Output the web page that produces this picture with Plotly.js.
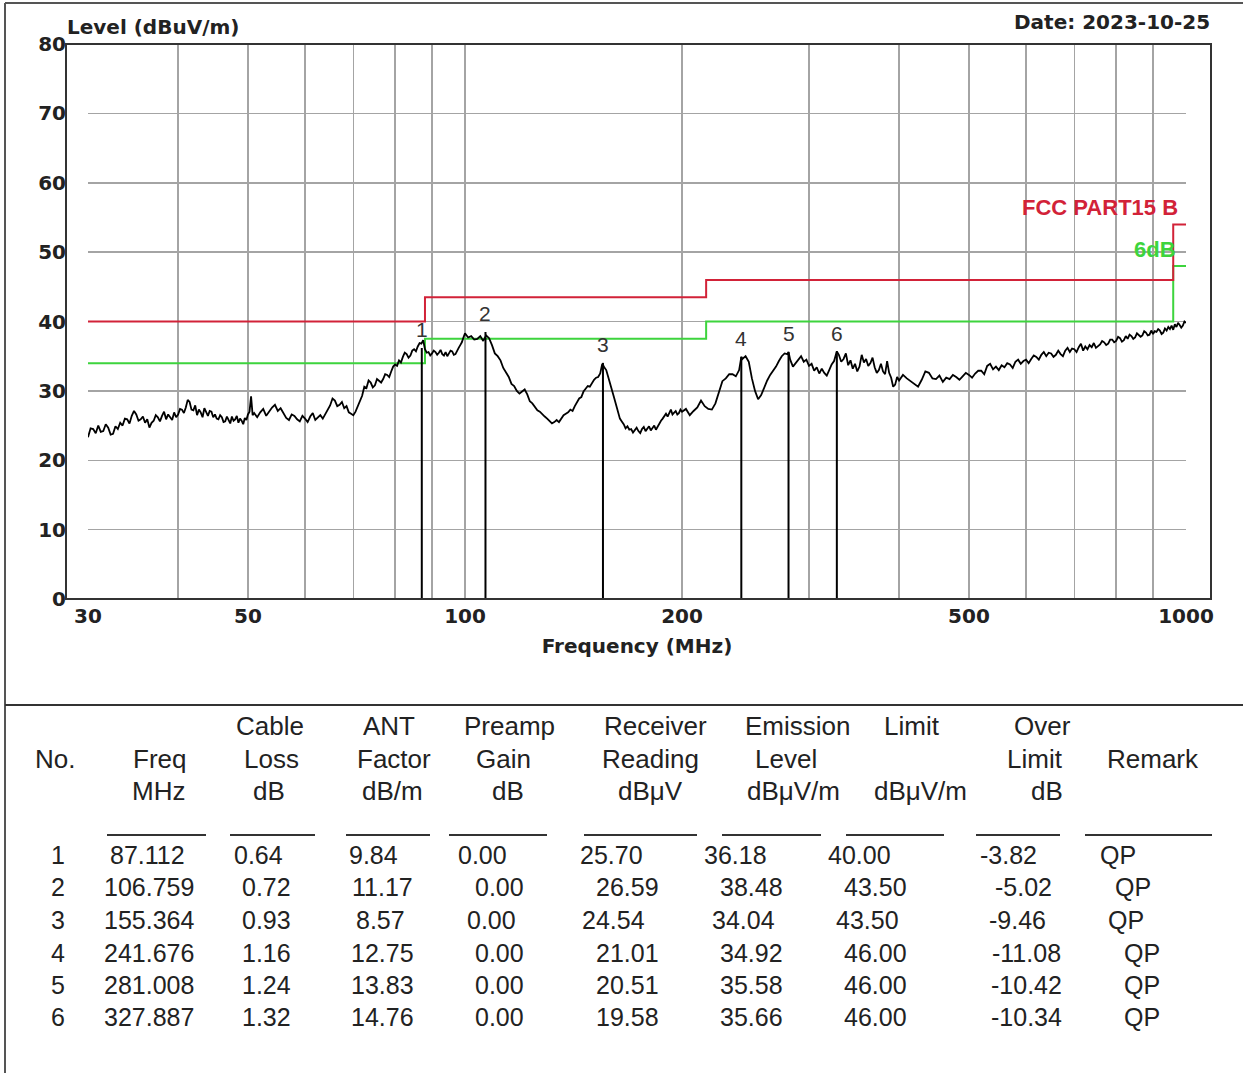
<!DOCTYPE html>
<html><head><meta charset="utf-8">
<script src="https://cdn.plot.ly/plotly-3.0.1.min.js"></script>
<style>html,body{margin:0;padding:0;background:#fff;}#chart{width:1243px;height:1073px;}</style>
</head><body><div id="chart"></div>
<script>
const freqMHz = [
30,30.25,30.5,30.75,31,31.25,31.5,31.75,32,32.25,
32.5,32.75,33,33.25,33.5,33.75,34,34.25,34.5,34.75,
35,35.25,35.5,35.75,36,36.25,36.5,36.75,37,37.25,
37.5,37.75,38,38.25,38.5,38.75,39,39.25,39.5,39.75,
40,40.25,40.5,40.75,41,41.25,41.5,41.75,42,42.25,
42.5,42.75,43,43.25,43.5,43.75,44,44.25,44.5,44.75,
45,45.25,45.5,45.75,46,46.25,46.5,46.75,47,47.25,
47.5,47.75,48,48.25,48.5,48.75,49,49.25,49.5,49.75,
50,50.25,50.5,50.75,
51,51.5,52,52.5,53,53.5,54,54.5,55,55.5,
56,56.5,57,57.5,58,58.5,59,59.5,60,60.5,
61,61.5,62,62.5,63,63.5,64,64.5,65,65.5,
66,66.5,67,67.5,68,68.5,69,69.5,70,70.5,
71,71.5,72,72.5,73,73.5,74,74.5,75,75.5,
76,76.5,77,77.5,78,78.5,79,79.5,80,80.5,
81,81.5,82,82.5,83,83.5,84,84.5,85,85.5,
86,86.5,87,87.5,88,88.5,89,89.5,90,90.5,
91,91.5,92,92.5,93,93.5,94,94.5,95,95.5,
96,96.5,97,97.5,98,98.5,99,99.5,
100,101,102,103,104,105,106,107,108,109,
110,111,112,113,114,115,116,117,118,119,
120,121,122,123,124,125,126,127,128,129,
130,131,132,133,134,135,136,137,138,139,
140,141,142,143,144,145,146,147,148,149,
150,151,152,153,154,155,156,157,158,159,
160,161,162,163,164,165,166,167,168,169,
170,171,172,173,174,175,176,177,178,179,
180,181,182,183,184,185,186,187,188,189,
190,191,192,193,194,195,196,197,198,199,
200,202.5,205,207.5,210,212.5,215,217.5,220,222.5,
225,227.5,230,232.5,235,237.5,240,241.7,242.5,245,
247.5,250,252.5,255,257.5,260,262.5,265,267.5,270,
272.5,275,277.5,280,281,282.5,285,287.5,290,292.5,
295,297.5,300,302.5,305,307.5,310,312.5,315,317.5,
320,322.5,325,327.9,330,332.5,335,337.5,340,342.5,
345,347.5,350,352.5,355,357.5,360,362.5,365,367.5,
370,372.5,375,377.5,380,382.5,385,387.5,390,392.5,
395,397.5,
400,405,410,415,420,425,430,435,440,445,
450,455,460,465,470,475,480,485,490,495,
500,505,510,515,520,525,530,535,540,545,
550,555,560,565,570,575,580,585,590,595,
600,605,610,615,620,625,630,635,640,645,
650,655,660,665,670,675,680,685,690,695,
700,705,710,715,720,725,730,735,740,745,
750,755,760,765,770,775,780,785,790,795,
800,805,810,815,820,825,830,835,840,845,
850,855,860,865,870,875,880,885,890,895,
900,905,910,915,920,925,930,935,940,945,
950,955,960,965,970,975,980,985,990,995,
1000];
const levelDbuV = [
23.3,24.6,24.5,23.9,25.0,24.1,24.2,25.2,24.7,23.7,
23.8,24.9,24.5,25.4,25.0,26.0,25.9,25.3,26.4,27.1,
26.6,25.7,25.9,26.3,25.4,25.9,24.7,25.4,25.7,26.5,
26.2,25.6,26.4,27.0,25.9,26.6,26.2,25.8,26.9,26.2,
26.6,27.4,27.3,26.8,27.6,28.7,28.4,27.3,27.2,27.9,
26.5,27.3,26.9,26.2,27.5,26.8,26.4,27.1,27.0,26.2,
26.6,26.0,25.9,26.5,26.2,25.5,25.6,26.3,25.9,25.3,
26.3,25.7,25.9,26.4,25.4,26.0,25.7,25.2,26.1,25.8,
26.6,27.0,29.2,26.5,
26.8,26.2,26.9,27.4,26.4,27.0,27.6,28.0,27.1,27.5,
26.7,26.1,25.8,26.6,26.4,25.9,25.6,26.4,26.0,25.5,
26.3,26.8,25.8,26.2,26.5,26.0,26.7,27.2,27.9,28.9,
28.6,27.8,28.0,28.4,27.5,27.8,26.9,26.7,26.5,27.0,
27.8,28.6,29.3,30.6,30.4,31.5,31.2,30.5,30.8,31.7,
31.4,31.2,31.7,32.4,32.3,32.0,32.8,33.5,33.8,33.6,
34.4,34.1,34.9,35.5,35.3,34.8,35.1,35.8,36.0,35.7,
36.4,36.9,36.8,37.3,36.0,35.5,35.6,35.1,35.4,35.8,
35.6,35.2,35.5,35.9,35.3,35.1,35.6,35.0,35.4,35.8,
35.7,35.2,35.3,35.9,36.2,36.6,37.0,37.7,
38.3,37.7,37.9,37.4,37.5,37.9,37.2,38.0,37.6,36.6,
35.4,35.0,34.4,33.3,32.6,32.0,31.0,30.7,30.0,29.6,
29.9,30.2,29.5,28.5,28.2,27.6,27.2,27.0,26.6,26.3,
26.0,25.6,25.3,25.5,25.8,25.5,26.1,26.5,26.7,26.9,
27.3,27.1,27.8,28.4,28.9,29.1,29.9,30.3,30.7,30.6,
31.2,31.6,31.9,32.0,32.5,33.9,33.4,33.0,32.0,31.1,
30.0,29.0,28.0,27.0,26.0,25.6,25.2,24.6,24.9,24.4,
24.5,24.0,24.3,24.7,24.2,23.9,24.5,24.8,24.2,24.5,
24.9,24.3,24.6,25.0,24.4,24.9,25.4,25.7,26.0,26.4,
26.7,26.3,26.9,27.3,26.6,26.9,27.1,26.6,26.8,27.3,
27.0,27.4,26.5,27.1,27.6,28.6,27.8,27.4,27.3,28.2,
30.0,31.4,31.8,32.4,32.4,32.1,33.0,34.9,34.6,35.0,
34.2,31.8,30.0,28.8,29.4,30.6,31.5,32.3,32.9,33.5,
34.3,35.0,35.4,35.3,35.6,34.5,33.5,34.0,34.6,35.0,
34.2,34.5,33.6,33.9,32.9,33.4,32.5,33.2,32.6,32.2,
33.0,33.8,34.3,35.7,35.2,34.2,34.6,35.4,33.7,34.4,
33.2,33.9,32.8,33.5,35.2,34.1,34.6,33.6,34.0,34.8,
33.4,32.6,33.0,33.9,32.8,32.4,34.3,32.6,31.9,30.6,
30.9,32.0,
31.5,32.3,31.8,31.4,30.9,30.6,31.6,32.8,32.6,31.8,
31.7,32.2,31.3,31.9,31.7,32.3,32.0,31.6,32.1,32.6,
32.3,31.9,32.5,32.9,32.9,32.4,33.6,33.9,33.1,33.5,
33.0,33.7,33.4,34.0,33.8,33.3,34.2,34.5,33.9,34.3,
34.5,34.0,34.6,35.1,34.9,34.5,35.2,35.6,35.0,35.5,
35.4,34.9,35.2,35.8,35.3,35.0,35.8,36.2,35.6,36.1,
36.0,35.6,36.3,36.8,35.8,36.4,36.0,36.6,36.3,36.9,
36.2,36.5,36.7,37.2,37.0,36.6,36.8,37.4,37.4,37.0,
37.2,37.8,37.6,37.1,37.3,37.9,37.5,38.1,37.9,37.5,
37.7,38.3,38.1,37.8,38.0,38.6,38.4,38.0,38.1,38.7,
38.2,38.6,38.5,38.9,38.7,38.2,38.4,39.0,38.7,39.2,
38.9,39.4,38.8,39.6,39.2,39.8,39.5,39.1,39.4,40.0,
39.8];
if (freqMHz.length !== levelDbuV.length) console.error('length mismatch', freqMHz.length, levelDbuV.length);

// ---------- limit line (FCC Part 15 B) and margin ----------
const limitFreq = [30, 88, 216, 960, 1000];
const limitLevel = [40, 43.5, 46, 54, 54];
const marginDb = 6;
const limitName = 'FCC PART15 B';
const marginName = '6dB';

// ---------- marked peaks / table ----------
const markerNo = [1, 2, 3, 4, 5, 6];
const markerFreq = [87.112, 106.759, 155.364, 241.676, 281.008, 327.887];
const cableLoss = [0.64, 0.72, 0.93, 1.16, 1.24, 1.32];
const antFactor = [9.84, 11.17, 8.57, 12.75, 13.83, 14.76];
const preampGain = [0.00, 0.00, 0.00, 0.00, 0.00, 0.00];
const receiverReading = [25.70, 26.59, 24.54, 21.01, 20.51, 19.58];
const emissionLevel = [36.18, 38.48, 34.04, 34.92, 35.58, 35.66];
const limitValue = [40.00, 43.50, 43.50, 46.00, 46.00, 46.00];
const overLimit = [-3.82, -5.02, -9.46, -11.08, -10.42, -10.34];
const remark = ['QP', 'QP', 'QP', 'QP', 'QP', 'QP'];

const headerLine1 = ['', '', 'Cable', 'ANT', 'Preamp', 'Receiver', 'Emission', 'Limit', 'Over', ''];
const headerLine2 = ['No.', 'Freq', 'Loss', 'Factor', 'Gain', 'Reading', 'Level', '', 'Limit', 'Remark'];
const headerLine3 = ['', 'MHz', 'dB', 'dB/m', 'dB', 'dBμV', 'dBμV/m', 'dBμV/m', 'dB', ''];

// ---------- axes ----------
const xTickVals = [30, 40, 50, 60, 70, 80, 90, 100, 200, 300, 400, 500, 600, 700, 800, 900, 1000];
const xTickText = ['30', '', '50', '', '', '', '', '100', '200', '', '', '500', '', '', '', '', '1000'];
const yTickVals = [0, 10, 20, 30, 40, 50, 60, 70, 80];
const yTitle = 'Level (dBuV/m)';
const xTitle = 'Frequency (MHz)';
const dateText = 'Date: 2023-10-25';

// ---------- layout helpers (positions / styles) ----------
const W = 1243, H = 1073;
const px = v => v / W;
const py = v => 1 - v / H;
const RED = '#d22238', GREEN = '#3dd43d', INK = '#222222';
const titleFont = {family: 'DejaVu Sans, sans-serif', size: 20, color: INK, weight: 'bold'};

const marginStepY = limitLevel.map(v => v - marginDb);

const mx = [], my = [];
markerFreq.forEach((f, i) => { mx.push(f, f, null); my.push(0, emissionLevel[i], null); });

const traces = [
  {x: limitFreq, y: marginStepY, mode: 'lines', line: {color: GREEN, width: 2, shape: 'hv'}, hoverinfo: 'skip'},
  {x: limitFreq, y: limitLevel, mode: 'lines', line: {color: RED, width: 2, shape: 'hv'}, hoverinfo: 'skip'},
  {x: freqMHz, y: levelDbuV, mode: 'lines', line: {color: '#000', width: 1.8}},
  {x: mx, y: my, mode: 'lines', line: {color: '#000', width: 2}, connectgaps: false}
];

const annotations = [];
markerNo.forEach((n, i) => annotations.push({
  x: Math.log10(markerFreq[i]), y: emissionLevel[i], xref: 'x', yref: 'y', text: String(n), showarrow: false,
  yanchor: 'bottom', yshift: 5, font: {family: 'Liberation Sans, Arial, sans-serif', size: 21, color: '#333'}
}));
annotations.push({x: px(65), y: py(27), xref: 'paper', yref: 'paper', xanchor: 'left', yanchor: 'middle', text: yTitle, showarrow: false, font: titleFont});
annotations.push({x: px(1212), y: py(22), xref: 'paper', yref: 'paper', xanchor: 'right', yanchor: 'middle', text: dateText, showarrow: false, font: titleFont});
annotations.push({x: px(1180), y: py(207), xref: 'paper', yref: 'paper', xanchor: 'right', yanchor: 'middle', text: limitName, showarrow: false,
  font: {family: 'Liberation Sans, Arial, sans-serif', size: 22, color: RED, weight: 'bold'}});
annotations.push({x: px(1178), y: py(249), xref: 'paper', yref: 'paper', xanchor: 'right', yanchor: 'middle', text: marginName, showarrow: false,
  font: {family: 'Liberation Sans, Arial, sans-serif', size: 22, color: GREEN, weight: 'bold'}});

// table
const headFont = {family: 'Liberation Sans, Arial, sans-serif', size: 26, color: INK};
const cellFont = {family: 'Liberation Sans, Arial, sans-serif', size: 25, color: INK};
const head1X = [0, 0, 270, 389, 509, 655, 797, 912, 1042, 0];
const head2X = [55, 159, 271, 394, 503, 650, 786, 0, 1035, 1153];
const head3X = [0, 158, 269, 392, 508, 650, 793, 920, 1047, 0];
const headY = [726, 759, 791];
[[headerLine1, head1X], [headerLine2, head2X], [headerLine3, head3X]].forEach(([line, xs], r) => {
  line.forEach((t, c) => { if (t) annotations.push({x: px(xs[c]), y: py(headY[r]), xref: 'paper', yref: 'paper', xanchor: 'center', yanchor: 'middle', text: t, showarrow: false, font: headFont}); });
});
const colCenter = [58, 149, 266, 382, 499, 627, 751, 875, 1026, 1142];
const rowShift = [
  [0, -2, -8, -9, -17, -16, -16, -16, -18, -24],
  [0, 0, 0, 0, 0, 0, 0, 0, -2, -9],
  [0, 0, 0, -1, -8, -14, -8, -8, -9, -16],
  [0, 0, 0, 0, 0, 0, 0, 0, 0, 0],
  [0, 0, 0, 0, 0, 0, 0, 0, 0, 0],
  [0, 0, 0, 0, 0, 0, 0, 0, 0, 0]];
const rowY = [855, 887, 920, 953, 985, 1017];
markerNo.forEach((n, i) => {
  const cells = [String(n), markerFreq[i].toFixed(3), cableLoss[i].toFixed(2), antFactor[i].toFixed(2), preampGain[i].toFixed(2),
    receiverReading[i].toFixed(2), emissionLevel[i].toFixed(2), limitValue[i].toFixed(2), overLimit[i].toFixed(2), remark[i]];
  cells.forEach((t, c) => annotations.push({x: px(colCenter[c] + rowShift[i][c]), y: py(rowY[i]), xref: 'paper', yref: 'paper',
    xanchor: 'center', yanchor: 'middle', text: t, showarrow: false, font: cellFont}));
});

const shapes = [];
const line = (x0, y0, x1, y1, color, w) => shapes.push({type: 'line', xref: 'paper', yref: 'paper', x0: px(x0), y0: py(y0), x1: px(x1), y1: py(y1), line: {color: color, width: w}});
shapes.push({type: 'rect', xref: 'paper', yref: 'paper', x0: px(66), x1: px(1211), y0: py(599), y1: py(44), line: {color: '#333', width: 2}, layer: 'above'});
line(5, 3, 1243, 3, '#555', 2);
line(5, 3, 5, 1073, '#555', 2);
line(5, 705, 1243, 705, '#333', 2);
const underline = [[107, 206], [230, 315], [346, 430], [449, 547], [584, 697], [722, 821], [846, 944], [976, 1060], [1085, 1212]];
underline.forEach(([a, b]) => line(a, 835, b, 835, '#333', 2));

const layout = {
  width: W, height: H, margin: {l: 0, r: 0, t: 0, b: 0}, showlegend: false,
  paper_bgcolor: '#fff', plot_bgcolor: '#fff',
  xaxis: {type: 'log', domain: [px(88), px(1186)], range: [Math.log10(30), 3], tickmode: 'array', tickvals: xTickVals, ticktext: xTickText,
    showgrid: true, gridcolor: '#a4a4a4', gridwidth: 1.5, zeroline: false, showline: false, ticks: '', automargin: false,
    tickfont: titleFont, ticklabelstandoff: 3,
    title: {text: xTitle, font: titleFont, standoff: 11}},
  yaxis: {domain: [py(599), py(44)], range: [0, 80], tickmode: 'array', tickvals: yTickVals, anchor: 'free', position: px(66),
    showgrid: true, gridcolor: '#a4a4a4', gridwidth: 1.5, zeroline: false, showline: false, ticks: '', automargin: false,
    tickfont: titleFont},
  annotations: annotations, shapes: shapes
};
Plotly.newPlot('chart', traces, layout, {staticPlot: true, displayModeBar: false});
</script></body></html>
